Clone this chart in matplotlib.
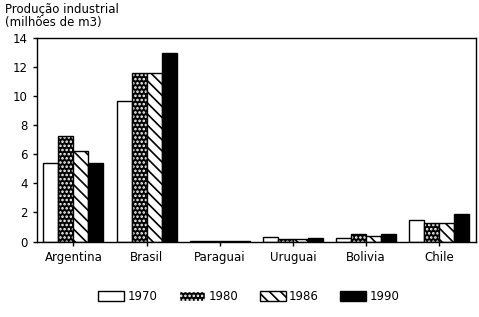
import numpy as np
import matplotlib.pyplot as plt
import matplotlib.patches as mpatches

plt.rcParams['font.family'] = 'DejaVu Sans'
plt.rcParams['font.size'] = 8.5
plt.rcParams['hatch.linewidth'] = 1.2

countries = ['Argentina', 'Brasil', 'Paraguai', 'Uruguai', 'Bolivia', 'Chile']
years = ['1970', '1980', '1986', '1990']
prod_1970 = [5.4, 9.7, 0.03, 0.3, 0.25, 1.5]
prod_1980 = [7.25, 11.6, 0.03, 0.15, 0.5, 1.3]
prod_1986 = [6.2, 11.6, 0.03, 0.15, 0.4, 1.3]
prod_1990 = [5.4, 13.0, 0.03, 0.25, 0.5, 1.9]

fig = plt.figure(figsize=(4.79, 3.17), dpi=100)
ax = fig.add_axes([0.077, 0.238, 0.916, 0.642])

x = np.arange(len(countries))
w = 0.205
series = [prod_1970, prod_1980, prod_1986, prod_1990]
for i, vals in enumerate(series):
    pos = x + (i - 1.5) * w
    if i == 0:
        ax.bar(pos, vals, w, color='white', edgecolor='black', linewidth=1.0)
    elif i == 1:
        # black bar with white dots, then a black outline on top
        ax.bar(pos, vals, w, color='black', edgecolor='white', hatch='....', linewidth=0)
        ax.bar(pos, vals, w, color='none', edgecolor='black', linewidth=1.0)
    elif i == 2:
        ax.bar(pos, vals, w, color='white', edgecolor='black', hatch='\\\\\\', linewidth=1.0)
    else:
        ax.bar(pos, vals, w, color='black', edgecolor='black', linewidth=1.0)

leg_handles = [
    mpatches.Patch(facecolor='white', edgecolor='black', label=years[0]),
    mpatches.Patch(facecolor='black', edgecolor='white', hatch='....', label=years[1]),
    mpatches.Patch(facecolor='white', edgecolor='black', hatch='\\\\\\', label=years[2]),
    mpatches.Patch(facecolor='black', edgecolor='black', label=years[3]),
]
fig.legend(handles=leg_handles, loc='lower center', bbox_to_anchor=(0.52, 0.01),
           ncol=4, frameon=False, handlelength=2.2, handleheight=1.0,
           columnspacing=1.8, handletextpad=0.3, fontsize=8.5)

ax.set_xlim(-0.5, 5.5)
ax.set_ylim(0, 14)
ax.set_yticks(range(0, 15, 2))
ax.set_xticks(x)
ax.set_xticklabels(countries)
ax.tick_params(axis='both', direction='out', length=3, width=1)
for s in ax.spines.values():
    s.set_linewidth(1.0)

fig.text(0.01, 0.99, 'Produção industrial\n(milhões de m3)', ha='left', va='top',
         fontsize=8.5, linespacing=1.0)

fig.savefig('out.png', dpi=100)
